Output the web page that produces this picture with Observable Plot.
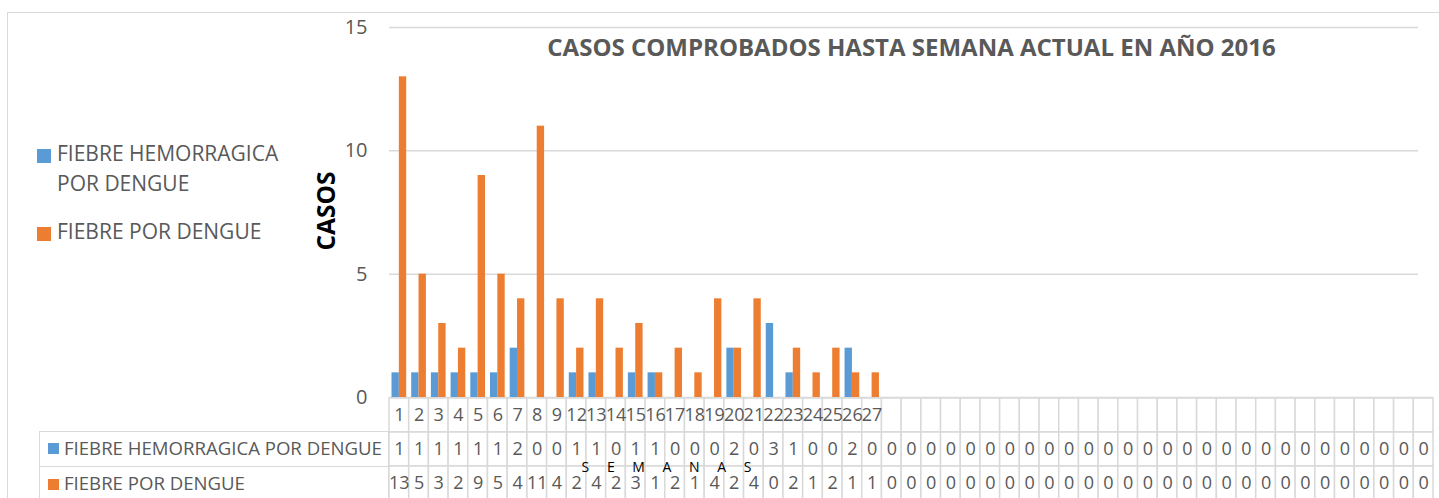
<!DOCTYPE html>
<html><head><meta charset="utf-8">
<script src="https://cdn.jsdelivr.net/npm/d3@7"></script>
<script src="https://cdn.jsdelivr.net/npm/@observablehq/plot@0.6"></script>
<style>
body{margin:0;background:#fff;overflow:hidden;}
#wrap{position:relative;width:1439px;height:498px;overflow:hidden;font-family:"Open Sans",sans-serif;background:#fff;color:#595959}
.abs{position:absolute;}
#border{left:7px;top:12px;width:1500px;height:600px;border:1.5px solid #d9d9d9;pointer-events:none;}
.sq{position:absolute;width:14px;height:14px;}
.leg{position:absolute;font-size:21px;line-height:30px;white-space:nowrap;}
.tcell{position:absolute;left:39px;width:350px;border:1.5px solid #d9d9d9;box-sizing:border-box;background:#fff;font-size:18.6px;white-space:nowrap;}
.tsq{position:absolute;left:8px;width:11px;height:11px;}
.tlab{position:absolute;left:24px;}
#semanas{left:570px;top:455px;width:200px;text-align:center;font-size:14px;color:#000;letter-spacing:7px;line-height:24px;white-space:nowrap}
</style></head>
<body>
<div id="wrap">
  <div id="main" class="abs" style="left:0;top:0"></div>
  <div id="table" class="abs" style="left:0;top:398px"></div>
  <div class="tcell" style="top:431px;height:36px"><div class="tsq" style="top:11px;background:#5B9BD5"></div><div class="tlab" style="top:3px">FIEBRE HEMORRAGICA POR DENGUE</div></div>
  <div class="tcell" style="top:465.5px;height:40px"><div class="tsq" style="top:12px;background:#ED7D31"></div><div class="tlab" style="top:3px">FIEBRE POR DENGUE</div></div>
  <div class="sq" style="left:37px;top:149px;background:#5B9BD5"></div>
  <div class="leg" style="left:57px;top:138px">FIEBRE HEMORRAGICA<br>POR DENGUE</div>
  <div class="sq" style="left:37px;top:227px;background:#ED7D31"></div>
  <div class="leg" style="left:57px;top:216px">FIEBRE POR DENGUE</div>
  <div id="semanas" class="abs">S E M A N A S</div>
  <div id="border" class="abs"></div>
</div>
<script>
// Week labels (blank columns are unused weeks)
const weeks = ["1","2","3","4","5","6","7","8","9","12","13","14","15","16","17","18","19","20","21","22","23","24","25","26","27",
  "","","","","","","","","","","","","","","","","","","","","","","","","","","",""];
const fiebreHemorragica = [1,1,1,1,1,1,2,0,0,1,1,0,1,1,0,0,0,2,0,3,1,0,0,2,0,
  0,0,0,0,0,0,0,0,0,0,0,0,0,0,0,0,0,0,0,0,0,0,0,0,0,0,0,0];
const fiebreDengue = [13,5,3,2,9,5,4,11,4,2,4,2,3,1,2,1,4,2,4,0,2,1,2,1,1,
  0,0,0,0,0,0,0,0,0,0,0,0,0,0,0,0,0,0,0,0,0,0,0,0,0,0,0,0];
const yTicks = [0,5,10,15];
const title = "CASOS COMPROBADOS HASTA SEMANA ACTUAL EN AÑO 2016";
const blue = "#5B9BD5", orange = "#ED7D31", gridColor = "#d9d9d9";

const idx = weeks.map((w, i) => i);
const rows = idx.map(i => ({i, week: weeks[i], hem: fiebreHemorragica[i], fdd: fiebreDengue[i]}));

const W = 1439, ML = 389, MR = 6;
const main = Plot.plot({
  width: W, height: 398,
  marginLeft: ML, marginRight: MR, marginTop: 27, marginBottom: 1,
  style: {background: "transparent", fontFamily: "'Open Sans', sans-serif", fontSize: "20px", color: "#595959", overflow: "visible"},
  x: {type: "band", domain: idx, padding: 0, axis: null},
  y: {domain: [0, 15], axis: null},
  marks: [
    Plot.gridY(yTicks.filter(t => t > 0), {stroke: gridColor, strokeOpacity: 1, strokeWidth: 1.5, insetRight: 15}),
    Plot.ruleY([0], {stroke: gridColor, strokeWidth: 1.5}),
    Plot.axisY(yTicks, {tickSize: 0, tickPadding: 22, fontSize: 20, fill: "#595959", label: null}),
    Plot.barY(rows, {x: "i", y: "hem", fill: blue, insetLeft: 2.5, insetRight: 9.84}),
    Plot.barY(rows, {x: "i", y: "fdd", fill: orange, insetLeft: 9.84, insetRight: 2.5}),
    Plot.text([title], {frameAnchor: "top", dy: 21, lineAnchor: "middle", textAnchor: "middle", fontSize: 24, fontWeight: "bold", fill: "#595959"}),
    Plot.text(["CASOS"], {frameAnchor: "left", dx: -62, dy: -1.5, rotate: -90, textAnchor: "middle", lineAnchor: "middle", fontSize: 24.5, fontWeight: "bold", fill: "#000"})
  ]
});
document.getElementById("main").appendChild(main);

const rowKeys = ["wk", "hem", "fdd"];
const tableData = [];
rows.forEach(r => {
  tableData.push({i: r.i, row: "wk", v: r.week});
  tableData.push({i: r.i, row: "hem", v: String(r.hem)});
  tableData.push({i: r.i, row: "fdd", v: String(r.fdd)});
});
const table = Plot.plot({
  width: W, height: 102,
  marginLeft: ML, marginRight: MR, marginTop: 0, marginBottom: 0,
  style: {background: "transparent", fontFamily: "'Open Sans', sans-serif", fontSize: "18px", color: "#595959", overflow: "visible"},
  x: {type: "band", domain: idx, padding: 0, axis: null},
  y: {type: "band", domain: rowKeys, padding: 0, axis: null},
  marks: [
    Plot.cell(tableData, {x: "i", y: "row", fill: "white", stroke: gridColor, strokeWidth: 1.5}),
    Plot.text(tableData, {x: "i", y: "row", text: "v", fill: "#595959", fontSize: 18})
  ]
});
document.getElementById("table").appendChild(table);
</script>
</body></html>
